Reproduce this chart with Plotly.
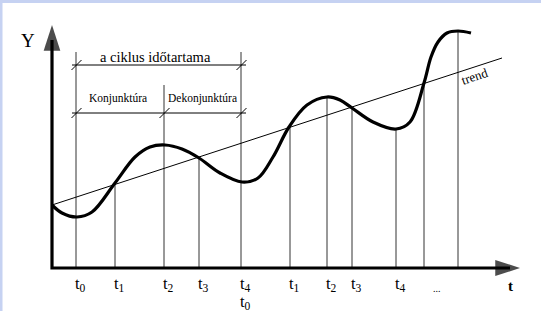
import plotly.graph_objects as go

# ---- data (time units / Y units) ----
curve_t = [0.0, 1.0, 2.5, 4.0, 6.3, 8.3, 9.8, 11.3, 13.0, 14.7, 16.8, 19.0, 20.6, 22.1,
           23.7, 25.5, 27.5, 28.8, 30.0, 32.1, 34.4, 35.8, 37.2, 37.9, 38.6, 39.5, 40.6, 41.9]
curve_y = [6.3, 5.5, 5.1, 5.6, 8.5, 11.1, 12.1, 12.3, 11.9, 11.0, 9.5, 8.6, 9.0, 11.1,
           14.1, 16.3, 17.1, 16.8, 16.0, 14.6, 13.9, 14.6, 18.5, 21.1, 22.6, 23.5, 23.7, 23.5]

trend_t = [0.0, 45.0]
trend_y = [6.3, 21.0]

mark_t = [2.4, 6.3, 11.2, 14.7, 18.9, 23.8, 27.5, 30.0, 34.4, 37.2, 40.6]
mark_top = [21.6, 8.5, 18.3, 11.1, 21.6, 14.1, 17.1, 16.1, 14.0, 18.5, 23.7]
mark_labels = ["t<sub>0</sub>", "t<sub>1</sub>", "t<sub>2</sub>", "t<sub>3</sub>", "t<sub>4</sub>",
               "t<sub>1</sub>", "t<sub>2</sub>", "t<sub>3</sub>", "t<sub>4</sub>", "", ""]
second_row_t = [18.9]
second_row_labels = ["t<sub>0</sub>"]
ellipsis_t = 38.5

cycle_start, cycle_mid, cycle_end = 2.4, 11.2, 18.9
cycle_level = 20.3
phase_level = 15.5

y_axis_top = 24.3
x_axis_end = 46.8

FONT = "Liberation Serif, Times New Roman, Times, serif"

fig = go.Figure()

# background border strips (paper coords)
fig.add_shape(type="rect", xref="paper", yref="paper", x0=0, x1=1, y0=1 - 3 / 311, y1=1,
              fillcolor="#c6d2f2", line_width=0, layer="below")
fig.add_shape(type="rect", xref="paper", yref="paper", x0=0, x1=2.5 / 541, y0=0, y1=1,
              fillcolor="#c6d2f2", line_width=0, layer="below")

# vertical time markers
vx, vy = [], []
for t, top in zip(mark_t, mark_top):
    vx += [t, t, None]
    vy += [0, top, None]
fig.add_trace(go.Scatter(x=vx, y=vy, mode="lines", line=dict(color="#333", width=1),
                         hoverinfo="skip", showlegend=False))

# trend
fig.add_trace(go.Scatter(x=trend_t, y=trend_y, mode="lines", line=dict(color="black", width=1),
                         hoverinfo="skip", showlegend=False))

# cycle curve
fig.add_trace(go.Scatter(x=curve_t, y=curve_y, mode="lines",
                         line=dict(color="black", width=3.2, shape="spline", smoothing=1.0),
                         hoverinfo="skip", showlegend=False))

# brackets
bx, by = [], []
for lvl, pts in [(cycle_level, [cycle_start, cycle_end]),
                 (phase_level, [cycle_start, cycle_mid, cycle_end])]:
    bx += [pts[0] - 0.4, pts[-1] + 0.5, None]
    by += [lvl, lvl, None]
    for p in pts:
        bx += [p - 0.45, p + 0.55, None]
        by += [lvl - 0.5, lvl + 0.5, None]
fig.add_trace(go.Scatter(x=bx, y=by, mode="lines", line=dict(color="black", width=1),
                         hoverinfo="skip", showlegend=False))

# axes
fig.add_trace(go.Scatter(x=[0, 0, x_axis_end - 1.0], y=[y_axis_top - 1.5, 0, 0], mode="lines",
                         line=dict(color="black", width=3.2), hoverinfo="skip", showlegend=False))
fig.add_trace(go.Scatter(x=[0, x_axis_end], y=[y_axis_top, 0], mode="markers",
                         marker=dict(symbol="arrow", size=[27, 26], angle=[0, 90], color="black",
                                     line=dict(width=0)),
                         hoverinfo="skip", showlegend=False))

ann = []
for t, lab in zip(mark_t, mark_labels):
    if lab:
        ann.append(dict(x=t + 0.45, y=-1.6, text=lab, showarrow=False, xanchor="center",
                        yanchor="middle", font=dict(family=FONT, size=16.5, color="black")))
for t, lab in zip(second_row_t, second_row_labels):
    ann.append(dict(x=t + 0.45, y=-3.4, text=lab, showarrow=False, xanchor="center",
                    yanchor="middle", font=dict(family=FONT, size=16.5, color="black")))
ann.append(dict(x=ellipsis_t, y=-2.0, text="...", showarrow=False,
                font=dict(family=FONT, size=10, color="black")))
ann.append(dict(x=x_axis_end - 1.0, y=-1.8, text="<b>t</b>", showarrow=False,
                font=dict(family=FONT, size=15, color="black")))
ann.append(dict(x=-2.4, y=y_axis_top - 1.5, text="Y", showarrow=False,
                font=dict(family=FONT, size=19, color="black")))
ann.append(dict(x=(cycle_start + cycle_end) / 2 - 0.3, y=cycle_level + 0.8, text="a ciklus időtartama",
                showarrow=False, font=dict(family=FONT, size=14.5, color="black")))
ann.append(dict(x=(cycle_start + cycle_mid) / 2 - 0.2, y=phase_level + 1.5, text="Konjunktúra",
                showarrow=False, font=dict(family=FONT, size=11.5, color="black")))
ann.append(dict(x=(cycle_mid + cycle_end) / 2, y=phase_level + 1.5, text="Dekonjunktúra",
                showarrow=False, font=dict(family=FONT, size=11.5, color="black")))
ann.append(dict(x=42.2, y=19.2, text="trend", textangle=-19, showarrow=False,
                font=dict(family=FONT, size=13, color="black")))

fig.update_layout(
    width=541, height=311, margin=dict(l=0, r=0, t=0, b=0),
    paper_bgcolor="white", plot_bgcolor="white",
    xaxis=dict(range=[-5.2, 48.9], visible=False, fixedrange=True),
    yaxis=dict(range=[-4.3, 26.8], visible=False, fixedrange=True),
    annotations=ann, showlegend=False,
)

fig.write_html("out.html", config={"displayModeBar": False},
               post_script="document.body.style.margin='0';document.body.style.overflow='hidden';")
